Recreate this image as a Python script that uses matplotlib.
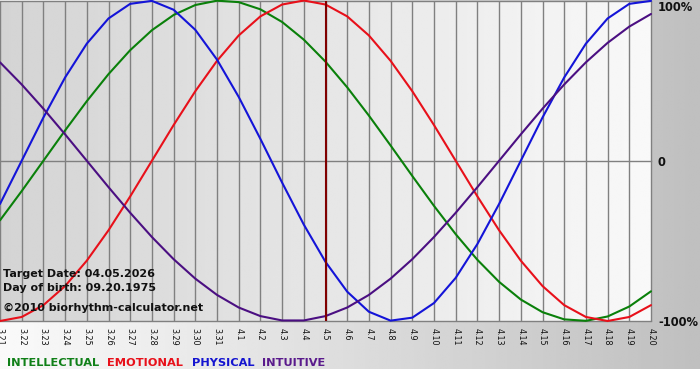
import numpy as np
import matplotlib
matplotlib.use('Agg')
import matplotlib.pyplot as plt

# ---- data ----
dates = ['3.21', '3.22', '3.23', '3.24', '3.25', '3.26', '3.27', '3.28', '3.29', '3.30', '3.31',
         '4.1', '4.2', '4.3', '4.4', '4.5', '4.6', '4.7', '4.8', '4.9', '4.10',
         '4.11', '4.12', '4.13', '4.14', '4.15', '4.16', '4.17', '4.18', '4.19', '4.20']

physical = [-0.2698, 0.0, 0.2698, 0.5196, 0.7308, 0.8879, 0.9791, 0.9977, 0.9423, 0.8170, 0.6311,
            0.3984, 0.1362, -0.1362, -0.3984, -0.6311, -0.8170, -0.9423, -0.9977, -0.9791, -0.8879,
            -0.7308, -0.5196, -0.2698, 0.0, 0.2698, 0.5196, 0.7308, 0.8879, 0.9791, 0.9977]

emotional = [-1.0, -0.9749, -0.9010, -0.7818, -0.6235, -0.4339, -0.2225, 0.0, 0.2225, 0.4339, 0.6235,
             0.7818, 0.9010, 0.9749, 1.0, 0.9749, 0.9010, 0.7818, 0.6235, 0.4339, 0.2225,
             0.0, -0.2225, -0.4339, -0.6235, -0.7818, -0.9010, -0.9749, -1.0, -0.9749, -0.9010]

intellectual = [-0.3717, -0.1893, 0.0, 0.1893, 0.3717, 0.5406, 0.6901, 0.8146, 0.9096, 0.9718, 0.9989,
                0.9898, 0.9450, 0.8660, 0.7557, 0.6182, 0.4582, 0.2817, 0.0951, -0.0951, -0.2817,
                -0.4582, -0.6182, -0.7557, -0.8660, -0.9450, -0.9898, -0.9989, -0.9718, -0.9096, -0.8146]

intuitive = [0.6142, 0.4759, 0.3247, 0.1646, 0.0, -0.1646, -0.3247, -0.4759, -0.6142, -0.7357, -0.8372,
             -0.9158, -0.9694, -0.9966, -0.9966, -0.9694, -0.9158, -0.8372, -0.7357, -0.6142, -0.4759,
             -0.3247, -0.1646, 0.0, 0.1646, 0.3247, 0.4759, 0.6142, 0.7357, 0.8372, 0.9158]

target_label = '4.5'
info_lines = ['Target Date: 04.05.2026', 'Day of birth: 09.20.1975', '\u00a92010 biorhythm-calculator.net']
legend_names = ['INTELLECTUAL', 'EMOTIONAL', 'PHYSICAL', 'INTUITIVE']
y_labels = ['100%', '0', '-100%']

# ---- styles ----
series = [intellectual, emotional, physical, intuitive]
line_colors = ['#0a800a', '#e8101a', '#1414d8', '#4b0f82']
text_colors = ['#108018', '#e8101a', '#1414d0', '#5a1a8c']

W, H = 700, 380
fig = plt.figure(figsize=(W / 100, H / 100), dpi=100, facecolor='white')

def fy(px):
    return 1 - px / H

# figure background gradient (light left -> gray right), white strip at bottom
bg = fig.add_axes([0, 0, 1, 1], zorder=0)
bg.set_axis_off()
grad = np.tile(np.linspace(0.98, 0.75, 256), (2, 1))
bg.imshow(grad, cmap='gray', vmin=0, vmax=1, extent=[0, 1, 11 / H, 1], aspect='auto',
          interpolation='bilinear')
bg.set_xlim(0, 1)
bg.set_ylim(0, 1)

# main plot area
ax = fig.add_axes([0, 59 / H, 651 / W, 320.5 / H], zorder=1)
x = np.arange(len(dates))
pgrad = np.tile(np.linspace(0.83, 0.975, 256), (2, 1))
ax.imshow(pgrad, cmap='gray', vmin=0, vmax=1, extent=[0, len(dates) - 1, -1, 1], aspect='auto',
          interpolation='bilinear', zorder=0)
ax.set_xlim(0, len(dates) - 1)
ax.set_ylim(-1, 1)
for s in ax.spines.values():
    s.set_visible(False)

ax.vlines(x, -1, 1, color='#808080', lw=1.0, zorder=1, clip_on=False)
for yv in (1, 0, -1):
    ax.axhline(yv, color='#808080', lw=1.0, zorder=1, clip_on=False)

for vals, c in zip(series, line_colors):
    ax.plot(x, vals, color=c, lw=1.5, zorder=3, clip_on=False, solid_capstyle='round')

ax.axvline(dates.index(target_label), color='#800000', lw=1.5, zorder=4)

ax.set_xticks(x)
ax.set_xticklabels(dates, rotation=-90, fontsize=5.8, color='#111111')
ax.tick_params(axis='x', length=0, pad=5)
ax.set_yticks([])

# info texts
for t, base in zip(info_lines, [276.7, 290.7, 311]):
    fig.text(3 / W, fy(base), t, fontsize=8.0, fontweight='bold', color='#111111',
             va='baseline', ha='left', zorder=5)

# right labels
for t, base in zip(y_labels, [11, 165.7, 326]):
    fig.text(658 / W, fy(base), t, fontsize=8.3, fontweight='bold', color='#111111',
             va='baseline', ha='left', zorder=5)

# legend
for t, c, xp in zip(legend_names, text_colors, [7, 107, 192, 262]):
    fig.text(xp / W, fy(365.7), t, fontsize=8.2, fontweight='bold', color=c,
             va='baseline', ha='left', zorder=5)

fig.savefig('out.png', dpi=100, facecolor='white')
